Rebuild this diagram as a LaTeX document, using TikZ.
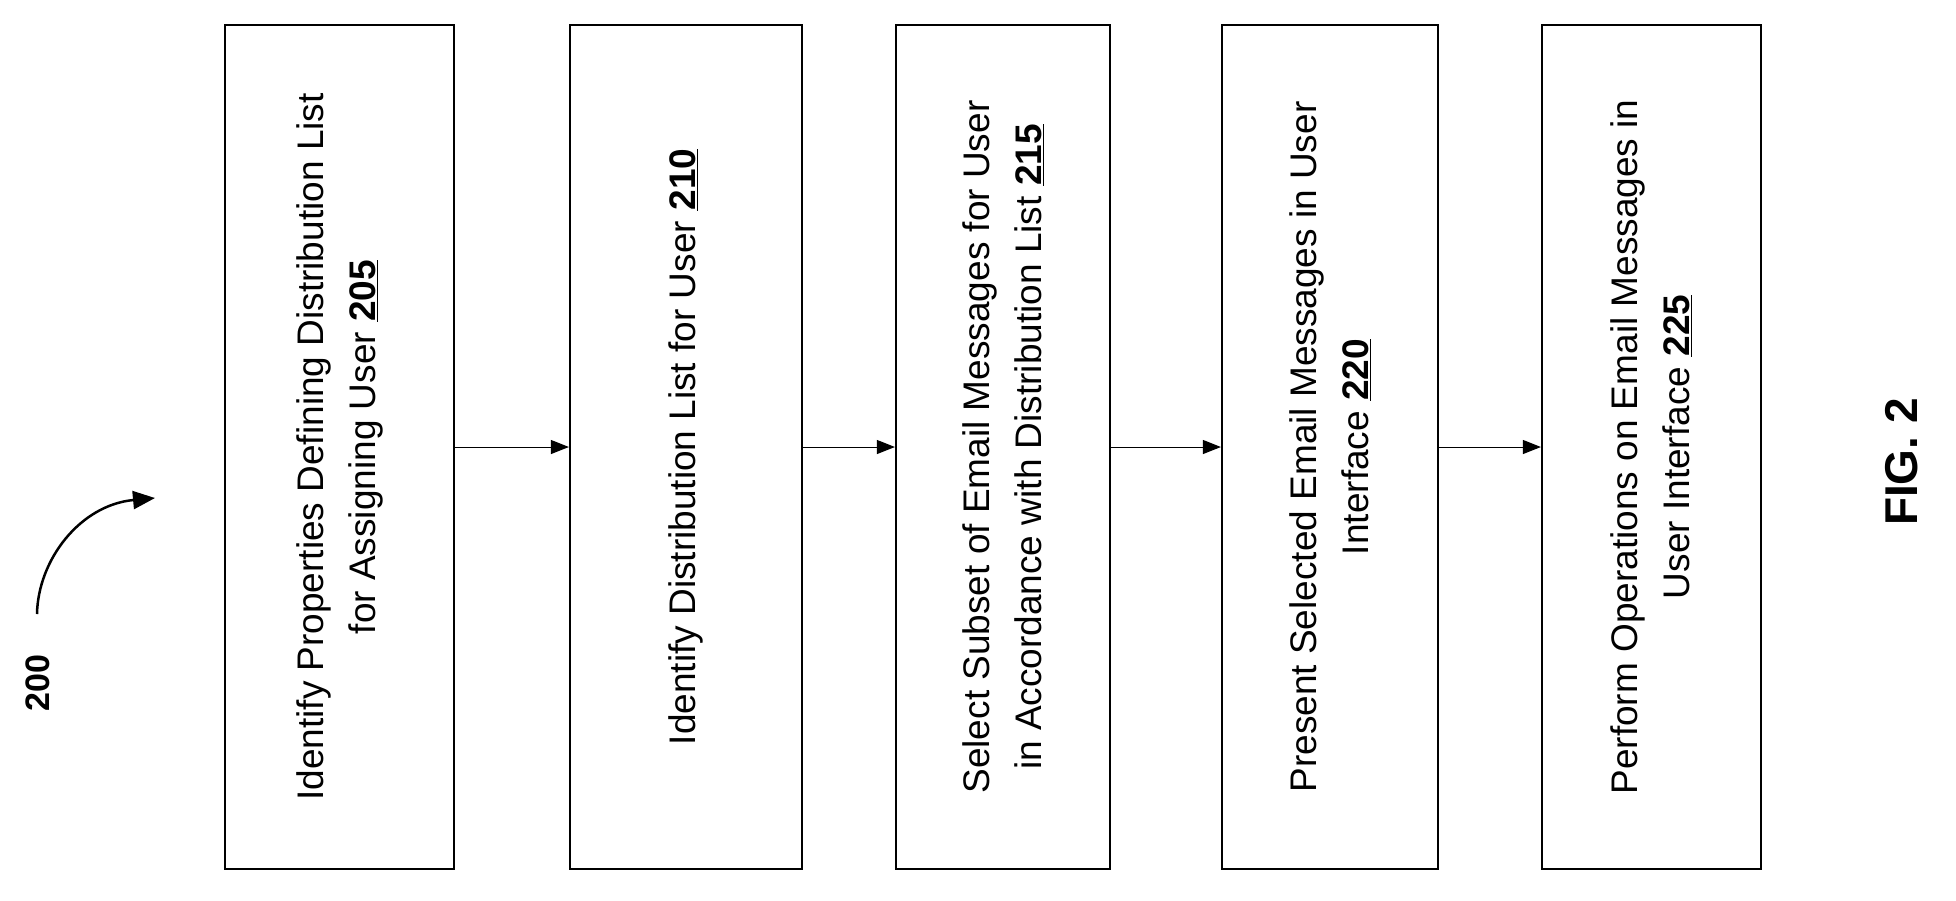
\documentclass[tikz,border=0pt]{standalone}
\usepackage{fontspec}
\setmainfont{Liberation Sans}
\usetikzlibrary{arrows.meta}
\begin{document}
\begin{tikzpicture}[x=1pt,y=-1pt,
  box/.style={draw,line width=2.2pt,inner sep=0},
  lbl/.style={rotate=90,align=center,font=\fontsize{37}{52}\selectfont},
  conn/.style={line width=1pt,-{Triangle[length=18pt,width=14pt]}}]
\useasboundingbox (0,0) rectangle (1956,900);
\foreach \n/\a/\b in {1/225/454,2/570/802,3/896/1110,4/1222/1438,5/1542/1761}{
  \node[box,minimum width={\b-\a},minimum height=844] (b\n) at ({(\a+\b)/2},447) {};
}
\node[lbl] (t1) at (b1) {Identify Properties Defining Distribution List\\for Assigning User \textbf{\underline{205}}};
\node[lbl] (t2) at (b2) {Identify Distribution List for User \textbf{\underline{210}}};
\node[lbl] (t3) at (b3) {Select Subset of Email Messages for User\\in Accordance with Distribution List \textbf{\underline{215}}};
\node[lbl] (t4) at (b4) {Present Selected Email Messages in User\\Interface \textbf{\underline{220}}};
\node[lbl] (t5) at (b5) {Perform Operations on Email Messages in\\User Interface \textbf{\underline{225}}};
\foreach \i/\j in {1/2,2/3,3/4,4/5}{ \draw[conn] (b\i.east) -- (b\j.west); }
\node[rotate=90,font=\fontsize{34}{40}\selectfont\bfseries] (n200) at (38,683) {200};
\coordinate (cs) at (37,614);
\coordinate (ce) at (155,498);
\draw[line width=2.5pt,-{Triangle[length=22pt,width=18pt]}] (cs) .. controls (38,560) and (80,505) .. (ce);
\node[rotate=90,font=\fontsize{46}{50}\selectfont\bfseries] (fig) at (1902,462) {FIG. 2};
\end{tikzpicture}
\end{document}
